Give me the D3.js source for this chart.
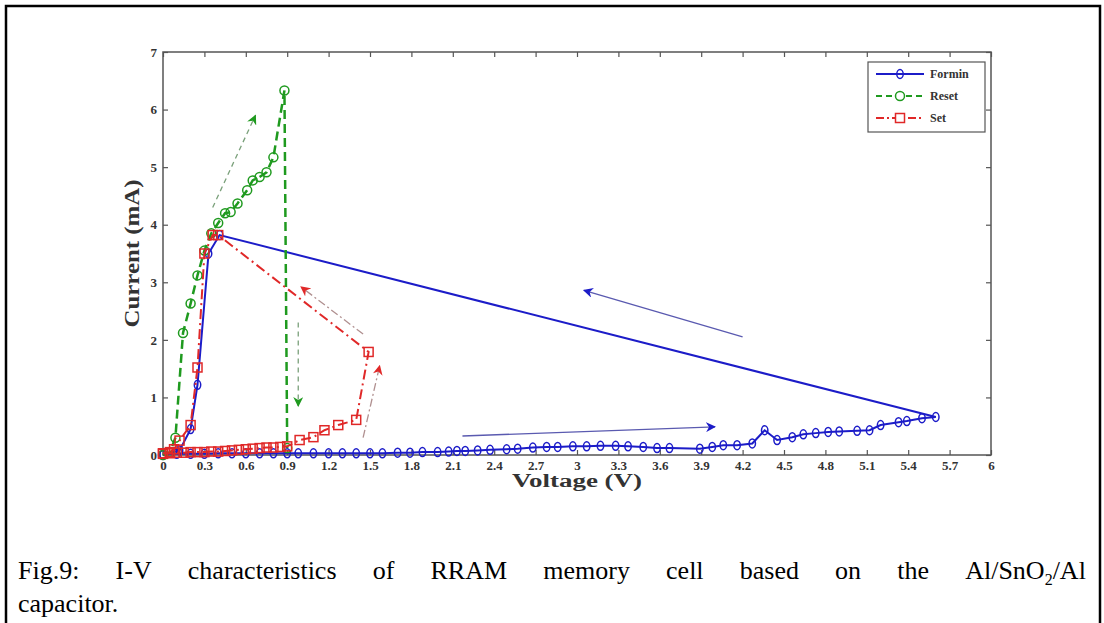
<!DOCTYPE html>
<html>
<head>
<meta charset="utf-8">
<script src="https://cdn.jsdelivr.net/npm/d3@7"></script>
<style>
  body { margin: 0; background: #fff; }
  #wrap { position: relative; width: 1104px; height: 623px; overflow: hidden; }
  svg { position: absolute; left: 0; top: 0; }
  .tick text { font-family: "Liberation Serif", serif; font-weight: bold; font-size: 13px; fill: #333; }
  .cap-line { position: absolute; left: 18px; width: 1068px;
    font-family: "Liberation Serif", serif; font-size: 26px; line-height: 33px; color: #000; white-space: nowrap; }
  .cap-line.first { top: 554px; display: flex; justify-content: space-between; }
  .cap-line.second { top: 587px; }
</style>
</head>
<body>
<div id="wrap"></div>
<script>
// Formin sweep (forward then back)
const formVolt = [0, 0.1, 0.2, 0.3, 0.4, 0.5, 0.6, 0.7, 0.8, 0.9, 0.98, 1.09, 1.2, 1.3, 1.4, 1.5, 1.59, 1.7, 1.79, 1.88,
  1.99, 2.07, 2.13, 2.19, 2.28, 2.37, 2.49, 2.57, 2.68, 2.78, 2.86, 2.97, 3.07, 3.17, 3.28, 3.37, 3.48, 3.58, 3.67,
  3.89, 3.98, 4.06, 4.16, 4.27, 4.36, 4.45, 4.56, 4.64, 4.73, 4.82, 4.9, 5.03, 5.12, 5.2, 5.33, 5.39, 5.5, 5.6,
  0.41, 0.33, 0.25, 0.2, 0.12, 0];
const formCurr = [0.01, 0.02, 0.02, 0.02, 0.03, 0.03, 0.03, 0.03, 0.03, 0.03, 0.03, 0.03, 0.03, 0.03, 0.03, 0.03, 0.03, 0.04, 0.04, 0.05,
  0.05, 0.06, 0.07, 0.07, 0.08, 0.09, 0.1, 0.11, 0.13, 0.14, 0.14, 0.15, 0.15, 0.16, 0.16, 0.15, 0.14, 0.12, 0.12,
  0.11, 0.14, 0.17, 0.17, 0.2, 0.43, 0.26, 0.31, 0.36, 0.38, 0.4, 0.41, 0.42, 0.43, 0.52, 0.57, 0.59, 0.64, 0.66,
  3.82, 3.5, 1.22, 0.45, 0.08, 0];

// Reset sweep
const resetVolt = [0, 0.05, 0.09, 0.145, 0.2, 0.25, 0.3, 0.35, 0.4, 0.45, 0.49, 0.54, 0.61, 0.65, 0.7, 0.75, 0.8, 0.88, 0.9];
const resetCurr = [0, 0.05, 0.3, 2.12, 2.63, 3.12, 3.55, 3.85, 4.03, 4.2, 4.22, 4.37, 4.6, 4.77, 4.83, 4.91, 5.17, 6.33, 0.12];

// Set sweep
const setVolt = [0, 0.05, 0.1, 0.15, 0.2, 0.25, 0.3, 0.35, 0.4, 0.45, 0.5, 0.55, 0.6, 0.65, 0.7, 0.75, 0.8, 0.85, 0.9,
  0.99, 1.09, 1.17, 1.27, 1.4, 1.49, 0.4, 0.36, 0.3, 0.25, 0.2, 0.12, 0.08, 0.05, 0];
const setCurr = [0.03, 0.03, 0.04, 0.04, 0.05, 0.05, 0.05, 0.06, 0.06, 0.07, 0.08, 0.09, 0.1, 0.11, 0.12, 0.13, 0.13, 0.14, 0.15,
  0.26, 0.31, 0.43, 0.52, 0.61, 1.79, 3.82, 3.82, 3.5, 1.52, 0.52, 0.25, 0.1, 0.05, 0.02];

const xTicks = d3.range(0, 21).map(i => +(i * 0.3).toFixed(1));
const yTicks = [0, 1, 2, 3, 4, 5, 6, 7];

// guide arrows [x1, y1, x2, y2] in data units
const arrowBlueTop = [4.2, 2.05, 3.05, 2.86];
const arrowBlueBottom = [2.17, 0.33, 4.0, 0.49];
const arrowGreenUp = [0.36, 4.3, 0.67, 5.9];
const arrowGreenDown = [0.98, 2.3, 0.98, 0.85];
const arrowRedBack = [1.45, 2.1, 1.0, 2.92];
const arrowRedUp = [1.45, 0.3, 1.57, 1.55];

const captionWords = ["Fig.9:", "I-V", "characteristics", "of", "RRAM", "memory", "cell", "based", "on", "the", "Al/SnO<sub>2</sub>/Al"];
const captionEnd = "capacitor.";

const W = 1104, H = 623;
const margin = { top: 52, right: 113, bottom: 168, left: 163 };
const width = W - margin.left - margin.right;   // 828
const height = H - margin.top - margin.bottom;  // 403

const wrap = d3.select("#wrap");
const svg = wrap.append("svg").attr("width", W).attr("height", H);

// outer frame of the figure
svg.append("rect")
  .attr("x", 6).attr("y", 6).attr("width", 1094).attr("height", 640)
  .attr("fill", "none").attr("stroke", "#000").attr("stroke-width", 2.5);

const x = d3.scaleLinear().domain([0, 6]).range([0, width]);
const y = d3.scaleLinear().domain([0, 7]).range([height, 0]);

const chart = svg.append("g").attr("transform", `translate(${margin.left},${margin.top})`);

// axes with inward ticks
const axisGrey = "#555";
chart.append("g").attr("transform", `translate(0,${height})`)
  .call(d3.axisBottom(x).tickValues(xTicks).tickSizeInner(-5).tickSizeOuter(0).tickPadding(6).tickFormat(d3.format("~g")))
  .call(g => g.select(".domain").remove());
chart.append("g")
  .call(d3.axisTop(x).tickValues(xTicks).tickSizeInner(-5).tickSizeOuter(0).tickFormat(""))
  .call(g => g.select(".domain").remove());
chart.append("g")
  .call(d3.axisLeft(y).tickValues(yTicks).tickSizeInner(-5).tickSizeOuter(0).tickPadding(6).tickFormat(d3.format("d")))
  .call(g => g.select(".domain").remove());
chart.append("g").attr("transform", `translate(${width},0)`)
  .call(d3.axisRight(y).tickValues(yTicks).tickSizeInner(-5).tickSizeOuter(0).tickFormat(""))
  .call(g => g.select(".domain").remove());
chart.selectAll(".tick line").attr("stroke", axisGrey).attr("stroke-width", 1.2);

chart.append("rect")
  .attr("width", width).attr("height", height)
  .attr("fill", "none").attr("stroke", axisGrey).attr("stroke-width", 1.5);

// axis titles
chart.append("text")
  .text("Voltage (V)")
  .attr("x", width / 2).attr("y", height + 32)
  .attr("text-anchor", "middle")
  .attr("font-family", "Liberation Serif, serif").attr("font-weight", "bold").attr("font-size", 18)
  .attr("textLength", 130).attr("lengthAdjust", "spacingAndGlyphs")
  .attr("fill", "#333");
chart.append("text")
  .text("Current (mA)")
  .attr("transform", `translate(-24,${y(3.5)}) rotate(-90)`)
  .attr("text-anchor", "middle")
  .attr("font-family", "Liberation Serif, serif").attr("font-weight", "bold").attr("font-size", 20)
  .attr("textLength", 148).attr("lengthAdjust", "spacingAndGlyphs")
  .attr("fill", "#333");

// colours
const blue = "#1c1cc8", green = "#1f9a1f", red = "#e02828";

// guide arrows
const defs = svg.append("defs");
function marker(id, color) {
  defs.append("marker")
    .attr("id", id).attr("viewBox", "0 0 10 10")
    .attr("refX", 9).attr("refY", 5)
    .attr("markerWidth", 10).attr("markerHeight", 10)
    .attr("markerUnits", "userSpaceOnUse")
    .attr("orient", "auto")
    .append("path").attr("d", "M0,0 L10,5 L0,10 L3,5 Z").attr("fill", color);
}
marker("hBlue", blue); marker("hGreen", green); marker("hRed", red);

const arrows = [
  { a: arrowBlueTop, c: "#5a5ab0", m: "hBlue", dash: null },
  { a: arrowBlueBottom, c: "#5a5ab0", m: "hBlue", dash: null },
  { a: arrowGreenUp, c: "#7aa07a", m: "hGreen", dash: "5,4" },
  { a: arrowGreenDown, c: "#7aa07a", m: "hGreen", dash: "5,4" },
  { a: arrowRedBack, c: "#b09090", m: "hRed", dash: "8,3,2,3" },
  { a: arrowRedUp, c: "#b09090", m: "hRed", dash: "8,3,2,3" }
];
chart.selectAll("line.guide")
  .data(arrows)
  .join("line")
  .attr("class", "guide")
  .attr("x1", d => x(d.a[0])).attr("y1", d => y(d.a[1]))
  .attr("x2", d => x(d.a[2])).attr("y2", d => y(d.a[3]))
  .attr("stroke", d => d.c).attr("stroke-width", 1.3)
  .attr("stroke-dasharray", d => d.dash)
  .attr("marker-end", d => `url(#${d.m})`);

// series
const line = d3.line().x(d => x(d[0])).y(d => y(d[1]));
const formin = d3.zip(formVolt, formCurr);
const reset = d3.zip(resetVolt, resetCurr);
const setS = d3.zip(setVolt, setCurr);

chart.append("path").datum(formin).attr("d", line)
  .attr("fill", "none").attr("stroke", blue).attr("stroke-width", 2);
chart.selectAll("ellipse.formin").data(formin).join("ellipse")
  .attr("class", "formin")
  .attr("cx", d => x(d[0])).attr("cy", d => y(d[1]))
  .attr("rx", 3.2).attr("ry", 4.5)
  .attr("fill", "none").attr("stroke", blue).attr("stroke-width", 1.5);

chart.append("path").datum(reset).attr("d", line)
  .attr("fill", "none").attr("stroke", green).attr("stroke-width", 2.5)
  .attr("stroke-dasharray", "9,5");
chart.selectAll("circle.reset").data(reset).join("circle")
  .attr("class", "reset")
  .attr("cx", d => x(d[0])).attr("cy", d => y(d[1]))
  .attr("r", 4.5)
  .attr("fill", "none").attr("stroke", green).attr("stroke-width", 1.5);

chart.append("path").datum(setS).attr("d", line)
  .attr("fill", "none").attr("stroke", red).attr("stroke-width", 2)
  .attr("stroke-dasharray", "10,4,2,4");
chart.selectAll("rect.set").data(setS).join("rect")
  .attr("class", "set")
  .attr("x", d => x(d[0]) - 4.5).attr("y", d => y(d[1]) - 4.5)
  .attr("width", 9).attr("height", 9)
  .attr("fill", "none").attr("stroke", red).attr("stroke-width", 1.5);

// legend
const legend = chart.append("g").attr("transform", `translate(${width - 123},10)`);
legend.append("rect")
  .attr("width", 117).attr("height", 70)
  .attr("fill", "#fff").attr("stroke", axisGrey).attr("stroke-width", 1.2);
const legItems = [
  { name: "Formin", color: blue, dash: null, shape: "ellipse" },
  { name: "Reset", color: green, dash: "6,4", shape: "circle" },
  { name: "Set", color: red, dash: "8,3,2,3", shape: "rect" }
];
const li = legend.selectAll("g.item").data(legItems).join("g")
  .attr("class", "item")
  .attr("transform", (d, i) => `translate(0,${12 + i * 22})`);
li.append("line")
  .attr("x1", 8).attr("x2", 56)
  .attr("stroke", d => d.color).attr("stroke-width", 2)
  .attr("stroke-dasharray", d => d.dash);
li.filter(d => d.shape === "ellipse").append("ellipse")
  .attr("cx", 32).attr("rx", 3.2).attr("ry", 4.5)
  .attr("fill", "none").attr("stroke", blue).attr("stroke-width", 1.5);
li.filter(d => d.shape === "circle").append("circle")
  .attr("cx", 32).attr("r", 4.5)
  .attr("fill", "#fff").attr("stroke", green).attr("stroke-width", 1.5);
li.filter(d => d.shape === "rect").append("rect")
  .attr("x", 27.5).attr("y", -4.5).attr("width", 9).attr("height", 9)
  .attr("fill", "#fff").attr("stroke", red).attr("stroke-width", 1.5);
li.append("text")
  .text(d => d.name)
  .attr("x", 62).attr("dy", "0.35em")
  .attr("font-family", "Liberation Serif, serif").attr("font-weight", "bold").attr("font-size", 12)
  .attr("fill", "#333");

// caption, first line justified word by word
wrap.append("div").attr("class", "cap-line first")
  .selectAll("span").data(captionWords).join("span")
  .html(d => d.replace("<sub>", "<sub style=\"font-size:16px;line-height:0\">"));
wrap.append("div").attr("class", "cap-line second").text(captionEnd);
</script>
</body>
</html>
